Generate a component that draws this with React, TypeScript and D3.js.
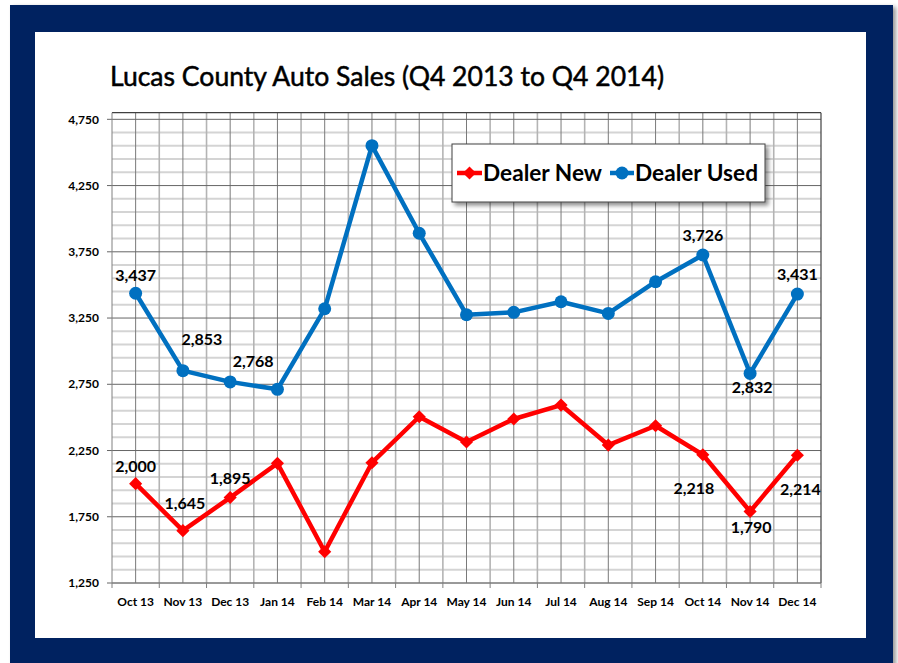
import React, { useEffect, useRef } from "react";
import * as d3 from "d3";

// chart data
const categories = ["Oct 13", "Nov 13", "Dec 13", "Jan 14", "Feb 14", "Mar 14", "Apr 14", "May 14",
  "Jun 14", "Jul 14", "Aug 14", "Sep 14", "Oct 14", "Nov 14", "Dec 14"];
const dealerNew = [2000, 1645, 1895, 2153, 1486, 2158, 2505, 2314, 2488, 2593, 2291, 2437, 2218, 1790, 2214];
const dealerUsed = [3437, 2853, 2768, 2712, 3320, 4551, 3890, 3275, 3293, 3373, 3285, 3524, 3726, 2832, 3431];
const yTicks = [1250, 1750, 2250, 2750, 3250, 3750, 4250, 4750];
const seriesNames = ["Dealer New", "Dealer Used"];

// which points carry a value label, and where it sits relative to the point
const newLabelIdx = [0, 1, 2, 12, 13, 14];
const newLabelOffset = [[0, -12], [2, -22], [0, -14], [-9, 39], [1, 22], [3, 40]];
const usedLabelIdx = [0, 1, 2, 12, 13, 14];
const usedLabelOffset = [[0, -12], [19, -26], [23, -15], [0, -14], [2, 20], [0, -14]];

const W = 898;
const H = 663;
const NAVY = "#002060";
const RED = "#FF0000";
const BLUE = "#0070C0";
const FONT = "Lato, 'Open Sans', sans-serif";

const App = () => {
  const svgRef = useRef(null);

  useEffect(() => {
    const svg = d3.select(svgRef.current);
    svg.selectAll("*").remove();

    const defs = svg.append("defs");
    const shadow = defs.append("filter").attr("id", "legShadow")
      .attr("x", "-10%").attr("y", "-20%").attr("width", "130%").attr("height", "160%");
    shadow.append("feDropShadow").attr("dx", 3).attr("dy", 3).attr("stdDeviation", 2)
      .attr("flood-color", "#000").attr("flood-opacity", 0.45);
    const frameShadow = defs.append("filter").attr("id", "frameShadow")
      .attr("x", "-5%").attr("y", "-5%").attr("width", "110%").attr("height", "110%");
    frameShadow.append("feDropShadow").attr("dx", 3).attr("dy", 2).attr("stdDeviation", 2)
      .attr("flood-color", "#000").attr("flood-opacity", 0.4);

    // page and navy frame
    svg.append("rect").attr("width", W).attr("height", H).attr("fill", "#fff");
    svg.append("rect").attr("x", 10).attr("y", 5).attr("width", 883).attr("height", 670)
      .attr("fill", NAVY).attr("filter", "url(#frameShadow)");
    svg.append("rect").attr("x", 35).attr("y", 32).attr("width", 831).attr("height", 606)
      .attr("fill", "#fff");

    // title
    svg.append("text")
      .attr("x", 110).attr("y", 86)
      .attr("font-family", FONT).attr("font-size", 27).attr("fill", "#000")
      .attr("stroke", "#000").attr("stroke-width", 0.5)
      .attr("textLength", 554).attr("lengthAdjust", "spacingAndGlyphs")
      .text("Lucas County Auto Sales (Q4 2013 to Q4 2014)");

    const left = 112, right = 821, top = 112.7, bottom = 583;

    const x = d3.scaleBand().domain(categories).range([left, right]).padding(0);
    const cx = (c) => x(c) + x.bandwidth() / 2;
    const y = d3.scaleLinear().domain([1250, 4800]).range([bottom, top]);

    const g = svg.append("g");

    // minor horizontal grid every 100
    const minor = d3.range(1350, 4800, 100).filter((v) => (v - 1250) % 500 !== 0);
    g.selectAll(".hminor").data(minor).join("line")
      .attr("x1", left).attr("x2", right)
      .attr("y1", (d) => y(d)).attr("y2", (d) => y(d))
      .attr("stroke", "#d4d4d4").attr("stroke-width", 2);

    // vertical grid: boundaries light, centers dark
    const bounds = categories.map((c) => x(c)).slice(1);
    g.selectAll(".vb").data(bounds).join("line")
      .attr("x1", (d) => d).attr("x2", (d) => d)
      .attr("y1", top).attr("y2", bottom)
      .attr("stroke", "#b4b4b4").attr("stroke-width", 1.6);
    g.selectAll(".vc").data(categories).join("line")
      .attr("x1", (d) => cx(d)).attr("x2", (d) => cx(d))
      .attr("y1", top).attr("y2", bottom)
      .attr("stroke", "#7a7a7a").attr("stroke-width", 1);

    // major horizontal grid
    g.selectAll(".hmajor").data(yTicks).join("line")
      .attr("x1", left - 5).attr("x2", right)
      .attr("y1", (d) => y(d)).attr("y2", (d) => y(d))
      .attr("stroke", "#666").attr("stroke-width", 1);

    // plot border top/right, axes
    g.append("line").attr("x1", left).attr("x2", right).attr("y1", top).attr("y2", top)
      .attr("stroke", "#404040").attr("stroke-width", 1.2);
    g.append("line").attr("x1", right).attr("x2", right).attr("y1", top).attr("y2", bottom)
      .attr("stroke", "#404040").attr("stroke-width", 1.2);
    g.append("line").attr("x1", left).attr("x2", left).attr("y1", top).attr("y2", bottom)
      .attr("stroke", "#808080").attr("stroke-width", 1);
    g.append("line").attr("x1", left).attr("x2", right).attr("y1", bottom).attr("y2", bottom)
      .attr("stroke", "#808080").attr("stroke-width", 1);
    g.selectAll(".xtick").data(categories.map((c) => x(c)).concat([right])).join("line")
      .attr("x1", (d) => d).attr("x2", (d) => d)
      .attr("y1", bottom).attr("y2", bottom + 5)
      .attr("stroke", "#808080");

    // tick labels
    const fmt = d3.format(",");
    g.selectAll(".ylab").data(yTicks).join("text")
      .attr("x", 99).attr("y", (d) => y(d)).attr("dy", "0.35em")
      .attr("text-anchor", "end")
      .attr("font-family", FONT).attr("font-weight", "bold").attr("font-size", 12)
      .attr("fill", "#000")
      .text((d) => fmt(d));
    g.selectAll(".xlab").data(categories).join("text")
      .attr("x", (d) => cx(d)).attr("y", 606)
      .attr("text-anchor", "middle")
      .attr("font-family", FONT).attr("font-weight", "bold").attr("font-size", 12)
      .attr("fill", "#000")
      .text((d) => d);

    const line = d3.line().x((d, i) => cx(categories[i])).y((d) => y(d));

    // Dealer Used
    g.append("path").datum(dealerUsed).attr("d", line)
      .attr("fill", "none").attr("stroke", BLUE).attr("stroke-width", 4.5)
      .attr("stroke-linejoin", "round");
    g.selectAll(".udot").data(dealerUsed).join("circle")
      .attr("cx", (d, i) => cx(categories[i])).attr("cy", (d) => y(d))
      .attr("r", 6.5).attr("fill", BLUE);

    // Dealer New
    g.append("path").datum(dealerNew).attr("d", line)
      .attr("fill", "none").attr("stroke", RED).attr("stroke-width", 4.5)
      .attr("stroke-linejoin", "round");
    const diamond = d3.symbol().type(d3.symbolDiamond2).size(110);
    g.selectAll(".ndot").data(dealerNew).join("path")
      .attr("d", diamond)
      .attr("transform", (d, i) => `translate(${cx(categories[i])},${y(d)})`)
      .attr("fill", RED);

    // value labels
    const addLabels = (vals, idx, offs) => {
      g.selectAll(null).data(idx).join("text")
        .attr("x", (d, k) => cx(categories[d]) + offs[k][0])
        .attr("y", (d, k) => y(vals[d]) + offs[k][1])
        .attr("text-anchor", "middle")
        .attr("font-family", FONT).attr("font-weight", "bold").attr("font-size", 16)
        .attr("fill", "#000")
        .text((d) => fmt(vals[d]));
    };
    addLabels(dealerUsed, usedLabelIdx, usedLabelOffset);
    addLabels(dealerNew, newLabelIdx, newLabelOffset);

    // legend
    const leg = svg.append("g");
    leg.append("rect").attr("x", 452).attr("y", 144).attr("width", 313).attr("height", 58)
      .attr("fill", "#fff").attr("stroke", "#404040").attr("stroke-width", 1)
      .attr("filter", "url(#legShadow)");
    const ly = 173;
    leg.append("line").attr("x1", 457).attr("x2", 482).attr("y1", ly).attr("y2", ly)
      .attr("stroke", RED).attr("stroke-width", 4.5);
    leg.append("path").attr("d", diamond).attr("transform", `translate(469.5,${ly})`).attr("fill", RED);
    leg.append("text").attr("x", 483).attr("y", ly).attr("dy", "0.36em")
      .attr("font-family", FONT).attr("font-weight", "bold").attr("font-size", 23)
      .attr("textLength", 119).attr("lengthAdjust", "spacingAndGlyphs")
      .text(seriesNames[0]);
    leg.append("line").attr("x1", 610).attr("x2", 634).attr("y1", ly).attr("y2", ly)
      .attr("stroke", BLUE).attr("stroke-width", 4.5);
    leg.append("circle").attr("cx", 622).attr("cy", ly).attr("r", 6.5).attr("fill", BLUE);
    leg.append("text").attr("x", 635).attr("y", ly).attr("dy", "0.36em")
      .attr("font-family", FONT).attr("font-weight", "bold").attr("font-size", 23)
      .attr("textLength", 123).attr("lengthAdjust", "spacingAndGlyphs")
      .text(seriesNames[1]);
  }, []);

  return (
    <svg ref={svgRef} width={W} height={H}
      style={{ position: "absolute", left: 0, top: 0, display: "block" }} />
  );
};

export default App;
